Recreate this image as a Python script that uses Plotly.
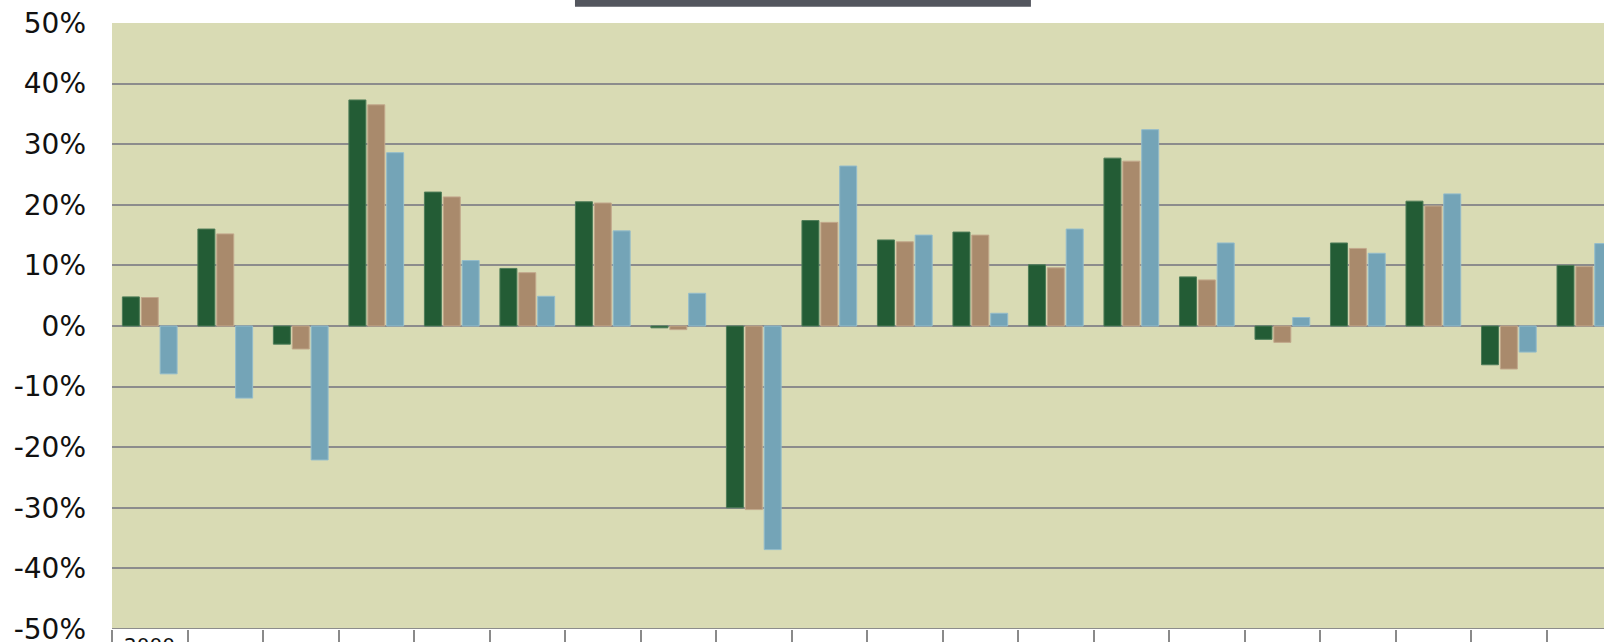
import plotly.graph_objects as go

years = [str(y) for y in range(2000, 2020)]
series_names = ["Series 1", "Series 2", "Series 3"]
green = [4.8, 16.0, -3.0, 37.3, 22.1, 9.5, 20.5, -0.3, -30.0, 17.4, 14.2, 15.5, 10.1, 27.7, 8.1, -2.2, 13.7, 20.6, -6.4, 10.0]
tan = [4.7, 15.2, -3.8, 36.5, 21.3, 8.8, 20.3, -0.6, -30.3, 17.1, 13.9, 15.0, 9.6, 27.2, 7.6, -2.7, 12.8, 19.8, -7.1, 9.8]
blue = [-7.9, -11.9, -22.1, 28.6, 10.8, 4.9, 15.7, 5.4, -36.9, 26.4, 15.0, 2.1, 16.0, 32.4, 13.7, 1.4, 12.0, 21.8, -4.3, 13.6]
y_ticks = [-50, -40, -30, -20, -10, 0, 10, 20, 30, 40, 50]

colors = ["#235c35", "#a98a6c", "#74a4b7"]
edges = ["#4f7d59", "#c2a88c", "#93bccb"]

fig = go.Figure()
for name, vals, c, e in zip(series_names, [green, tan, blue], colors, edges):
    fig.add_trace(go.Bar(x=years, y=vals, name=name,
                         marker=dict(color=c, line=dict(color=e, width=1))))

fig.update_layout(
    width=1604, height=642,
    margin=dict(l=112, r=0, t=23, b=13, autoexpand=False),
    paper_bgcolor="white",
    plot_bgcolor="#d9dbb4",
    barmode="group",
    bargap=0.25,
    bargroupgap=0.1,
    showlegend=False,
    font=dict(family="DejaVu Sans", color="#111111"),
)
fig.update_xaxes(
    type="category",
    range=[-0.5, 19.26],
    showticklabels=False, automargin=False,
    ticks="outside", tickson="boundaries", ticklen=16, tickwidth=2, tickcolor="#8a8a8a",
    showline=False, showgrid=False, zeroline=False,
)
fig.update_yaxes(
    range=[-50, 50], automargin=False,
    tickvals=y_ticks,
    ticktext=[f"{v}%" for v in y_ticks],
    tickfont=dict(size=28, family="DejaVu Sans", color="#111111"),
    ticklabelstandoff=25, ticklabeloverflow="allow",
    showgrid=True, gridcolor="#8c8c8c", gridwidth=2,
    zeroline=True, zerolinecolor="#8c8c8c", zerolinewidth=2,
    showline=False, ticks="",
)
# first category label (only its top is visible in the original); category axis -> index position
fig.add_annotation(x=0, xref="x", y=-0.003, yref="paper", yanchor="top",
                   text=years[0], showarrow=False,
                   font=dict(size=20, family="DejaVu Sans", color="#111111"))
# bottom axis line at -50%
fig.add_shape(type="line", xref="paper", yref="y", x0=0, x1=1, y0=-50, y1=-50,
              line=dict(color="#8c8c8c", width=2))
# dark title strip at top
fig.add_shape(type="rect", xref="paper", yref="paper", x0=0.3103, x1=0.6159, y0=1.027, y1=1.045,
              fillcolor="#53565e", line=dict(width=0), layer="above")

fig.write_html("out.html", config={"displayModeBar": False},
               post_script="document.body.style.margin='0';document.body.style.overflow='hidden';")
